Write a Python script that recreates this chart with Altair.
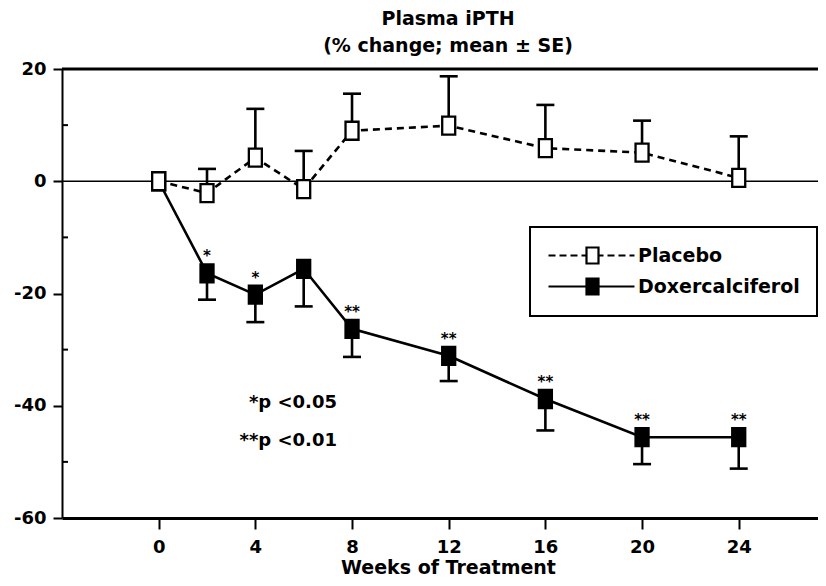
import altair as alt
import pandas as pd

# ---- data ----
weeks = [0, 2, 4, 6, 8, 12, 16, 20, 24]
placebo_mean = [0.0, -2.1, 4.2, -1.4, 9.0, 9.9, 5.9, 5.1, 0.6]
placebo_se = [0.0, 4.3, 8.7, 6.8, 6.6, 8.8, 7.7, 5.7, 7.4]
doxer_mean = [0.0, -16.4, -20.2, -15.6, -26.3, -31.1, -38.8, -45.6, -45.6]
doxer_se = [0.0, 4.7, 4.9, 6.7, 5.0, 4.5, 5.6, 4.8, 5.6]
doxer_sig = ["", "*", "*", "", "**", "**", "**", "**", "**"]
series_names = ["Placebo", "Doxercalciferol"]
x_ticks = [0, 4, 8, 12, 16, 20, 24]
y_major = [20, 0, -20, -40, -60]
y_minor = [10, -10, -30, -50]
top_border = [20]
zero_line = [0]
footnotes = ["*p <0.05", "**p <0.01"]
title_lines = ["Plasma iPTH", "(% change; mean \u00b1 SE)"]

FONT = "DejaVu Sans"

rows = []
for w, m, s, g in zip(weeks, doxer_mean, doxer_se, doxer_sig):
    rows.append({"series": "Doxercalciferol", "week": w, "mean": m, "se": s, "bound": m - s, "sig": g})
for w, m, s in zip(weeks, placebo_mean, placebo_se):
    rows.append({"series": "Placebo", "week": w, "mean": m, "se": s, "bound": m + s, "sig": ""})
df = pd.DataFrame(rows)

xscale = alt.Scale(domain=[-4, 27.28], nice=False, zero=False)
yscale = alt.Scale(domain=[-60, 20], nice=False, zero=False)

x_axis = alt.Axis(
    values=x_ticks, title="Weeks of Treatment", grid=False,
    domainWidth=3, domainColor="black", tickColor="black", tickWidth=2, tickSize=11,
    labelFont=FONT, labelFontSize=18, labelFontWeight="bold", labelColor="black",
    labelPadding=9, labelFlush=False,
    titleFont=FONT, titleFontSize=19, titleFontWeight="bold", titleColor="black",
    titlePadding=2, titleX=386)
y_axis = alt.Axis(
    values=y_major, title=None, grid=False,
    domainWidth=2, domainColor="black", tickColor="black", tickWidth=2, tickSize=9,
    labelFont=FONT, labelFontSize=18, labelFontWeight="bold", labelColor="black",
    labelPadding=7, labelFlush=False,
    labelExpr="datum.value < 0 ? '-' + abs(datum.value) : '' + datum.value")

X = alt.X("week:Q", scale=xscale, axis=x_axis)
Y = alt.Y("mean:Q", scale=yscale, axis=y_axis)

base = alt.Chart(df)

minor = alt.Chart(pd.DataFrame({"level": y_minor})).mark_rule(color="black", strokeWidth=2).encode(
    y=alt.Y("level:Q", scale=yscale, axis=y_axis), x=alt.value(0), x2=alt.value(6))

top = alt.Chart(pd.DataFrame({"level": top_border})).mark_rule(color="black", strokeWidth=3).encode(
    y=alt.Y("level:Q", scale=yscale, axis=y_axis))
zero = alt.Chart(pd.DataFrame({"level": zero_line})).mark_rule(color="black", strokeWidth=1.6).encode(
    y=alt.Y("level:Q", scale=yscale, axis=y_axis))

line_p = base.transform_filter(alt.datum.series == "Placebo").mark_line(
    color="black", strokeWidth=2.6, strokeDash=[7, 5]).encode(x=X, y=Y)
line_d = base.transform_filter(alt.datum.series == "Doxercalciferol").mark_line(
    color="black", strokeWidth=2.6).encode(x=X, y=Y)

err = base.transform_filter("datum.se > 0").mark_rule(color="black", strokeWidth=2.6).encode(
    x=X, y=Y, y2="bound:Q")
caps = base.transform_filter("datum.se > 0").mark_tick(
    orient="horizontal", size=18, thickness=2.6, color="black", opacity=1).encode(
    x=X, y=alt.Y("bound:Q", scale=yscale, axis=y_axis))

rect_path = "M-0.65,-0.9H0.65V0.9H-0.65Z"
pts_d = base.transform_filter(alt.datum.series == "Doxercalciferol").mark_point(
    shape=rect_path, size=400, filled=True, fill="black", stroke="black",
    strokeWidth=2.3, opacity=1).encode(x=X, y=Y)
pts_p = base.transform_filter(alt.datum.series == "Placebo").mark_point(
    shape=rect_path, size=400, filled=True, fill="white", stroke="black",
    strokeWidth=2.3, opacity=1).encode(x=X, y=Y)

stars = base.transform_filter("datum.sig != ''").mark_text(
    font=FONT, fontSize=15, fontWeight="bold", color="black", dy=-17, baseline="middle").encode(
    x=X, y=Y, text="sig:N")

one_row = "datum.week == 0 && datum.series == 'Placebo'"
note1 = base.transform_filter(one_row).mark_text(
    font=FONT, fontSize=18, fontWeight="bold", color="black", align="right", baseline="middle").encode(
    x=alt.value(275), y=alt.value(334), text=alt.value(footnotes[0]))
note2 = base.transform_filter(one_row).mark_text(
    font=FONT, fontSize=18, fontWeight="bold", color="black", align="right", baseline="middle").encode(
    x=alt.value(275), y=alt.value(372), text=alt.value(footnotes[1]))

# legend built from a scale: line + box symbols as custom paths
placebo_sym = ("M-1,0H-0.3M0.1,0H0.8M1.2,0H1.9M2.3,0H2.8"
               "M4,0H4.5M4.9,0H5.6M6,0H6.7M7.1,0H7.6"
               "M2.8,-0.8H4V0.8H2.8Z")
doxer_sym = "M-1,0H2.8M4,0H7.6M2.8,-0.8H4V0.8H2.8Z"
leg = alt.Legend(title=None, orient="none", legendX=468, legendY=158,
                 strokeColor="black", padding=17, symbolSize=400, symbolStrokeWidth=2.2,
                 labelOffset=68, labelFont=FONT, labelFontSize=19, labelFontWeight="bold",
                 labelColor="black", labelLimit=400, rowPadding=6)
legend_layer = base.transform_filter("false").mark_point(
    filled=True, stroke="black", strokeWidth=2.2, opacity=1).encode(
    x=X, y=Y,
    shape=alt.Shape("series:N", scale=alt.Scale(domain=series_names, range=[placebo_sym, doxer_sym]), legend=leg),
    fill=alt.Fill("series:N", scale=alt.Scale(domain=series_names, range=["white", "black"]), legend=leg),
)

chart = alt.layer(
    minor, top, zero, line_p, line_d, err, caps, pts_d, pts_p, stars, note1, note2, legend_layer
).properties(
    width=756, height=449,
    autosize=alt.AutoSizeParams(type="none"),
    padding={"left": 54, "top": 61, "right": 0, "bottom": 58},
    title=alt.Title(title_lines, font=FONT, fontSize=19, fontWeight="bold", color="black",
                    anchor="middle", dx=8, offset=4, lineHeight=27),
).configure_view(stroke=None).configure_legend(strokeWidth=2)

chart.save("out.html", embed_options={"renderer": "svg", "actions": False})
